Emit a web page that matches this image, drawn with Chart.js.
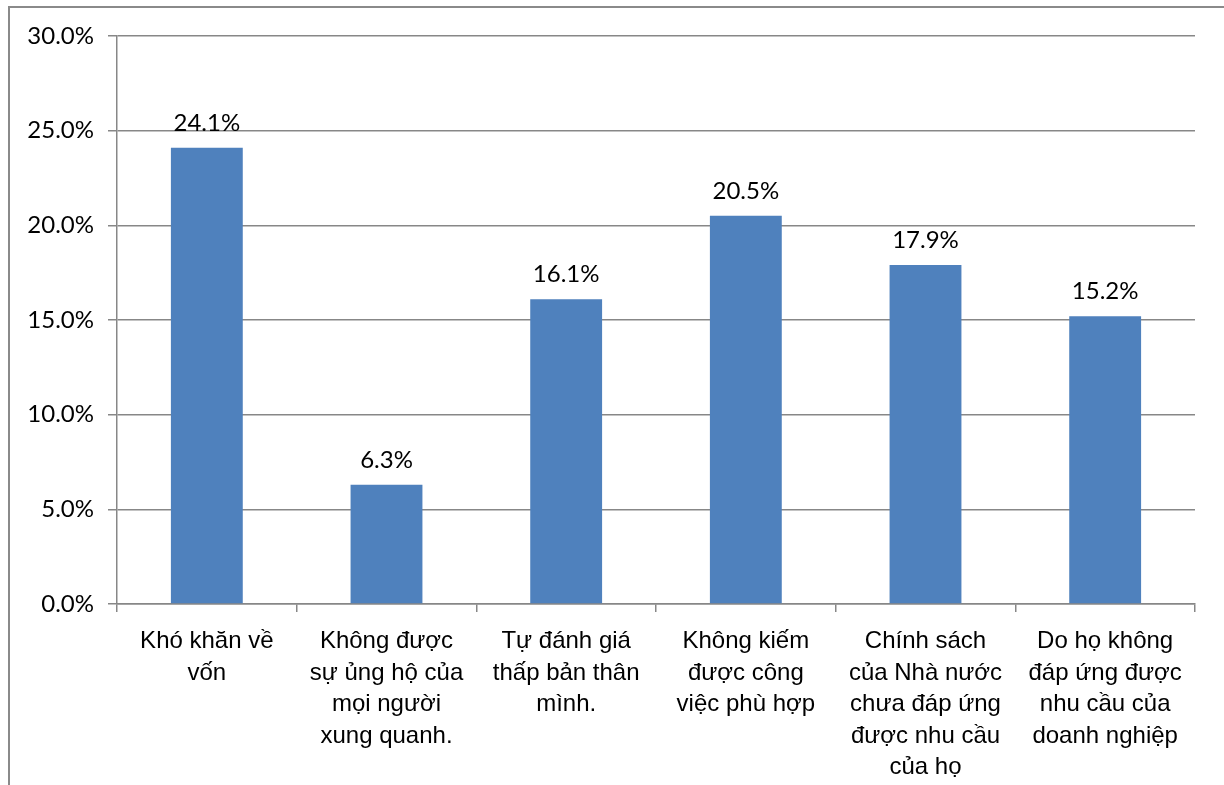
<!DOCTYPE html>
<html>
<head>
<meta charset="utf-8">
<script src="https://cdn.jsdelivr.net/npm/chart.js@4/dist/chart.umd.min.js"></script>
<style>
  html, body { margin: 0; padding: 0; background: #fff; }
  #wrap { position: relative; width: 1224px; height: 785px; }
</style>
</head>
<body>
<div id="wrap"><canvas id="chart" width="1224" height="785"></canvas></div>
<script>
// Dữ liệu
const categories = [
  ['Khó khăn về', 'vốn'],
  ['Không được', 'sự ủng hộ của', 'mọi người', 'xung quanh.'],
  ['Tự đánh giá', 'thấp bản thân', 'mình.'],
  ['Không kiếm', 'được công', 'việc phù hợp'],
  ['Chính sách', 'của Nhà nước', 'chưa đáp ứng', 'được nhu cầu', 'của họ'],
  ['Do họ không', 'đáp ứng được', 'nhu cầu của', 'doanh nghiệp'],
];
const values = [24.1, 6.3, 16.1, 20.5, 17.9, 15.2];
const yTicks = { min: 0, max: 30, step: 5 };

const GRID = '#878787';
const TICK_FONT = "'Lato', 'Carlito', sans-serif";
const CAT_FONT = "'Liberation Sans', Arial, sans-serif";

// Khung viền ngoài kiểu Excel
const frame = {
  id: 'frame',
  beforeDraw(chart) {
    const ctx = chart.ctx;
    ctx.save();
    ctx.strokeStyle = '#8a8a8a';
    ctx.lineWidth = 2;
    ctx.beginPath();
    ctx.moveTo(9, chart.height);
    ctx.lineTo(9, 7);
    ctx.lineTo(chart.width, 7);
    ctx.stroke();
    ctx.restore();
  },
};

// Nhãn giá trị trên cột
const valueLabels = {
  id: 'valueLabels',
  afterDatasetsDraw(chart) {
    const ctx = chart.ctx;
    const meta = chart.getDatasetMeta(0);
    ctx.save();
    ctx.fillStyle = '#000';
    ctx.font = `24px ${TICK_FONT}`;
    ctx.textAlign = 'center';
    ctx.textBaseline = 'alphabetic';
    meta.data.forEach((bar, i) => {
      ctx.fillText(values[i].toFixed(1) + '%', bar.x, bar.y - 17);
    });
    ctx.restore();
  },
};

new Chart(document.getElementById('chart'), {
  type: 'bar',
  data: {
    labels: categories,
    datasets: [{
      data: values,
      backgroundColor: '#4f81bd',
      barPercentage: 0.4,
      categoryPercentage: 1,
    }],
  },
  options: {
    responsive: false,
    animation: false,
    layout: { padding: { top: 36, right: 29, left: 0, bottom: 0 } },
    plugins: {
      legend: { display: false },
      tooltip: { enabled: false },
    },
    scales: {
      x: {
        offset: true,
        grid: {
          offset: true,
          drawOnChartArea: false,
          color: GRID,
          lineWidth: 1.5,
          tickLength: 8,
        },
        border: { color: GRID, width: 1.5 },
        ticks: {
          color: '#000',
          padding: 14,
          maxRotation: 0,
          autoSkip: false,
          font: { family: CAT_FONT, size: 24, lineHeight: 1.31 },
        },
        afterFit(scale) { scale.height = 785 - 604; },
      },
      y: {
        min: yTicks.min,
        max: yTicks.max,
        grid: { color: GRID, lineWidth: 1.5, tickLength: 9 },
        border: { color: GRID, width: 1.5 },
        ticks: {
          stepSize: yTicks.step,
          color: '#000',
          padding: 14,
          font: { family: TICK_FONT, size: 24 },
          callback: v => v.toFixed(1) + '%',
        },
        afterFit(scale) { scale.width = 117; },
      },
    },
  },
  plugins: [frame, valueLabels],
});
</script>
</body>
</html>
